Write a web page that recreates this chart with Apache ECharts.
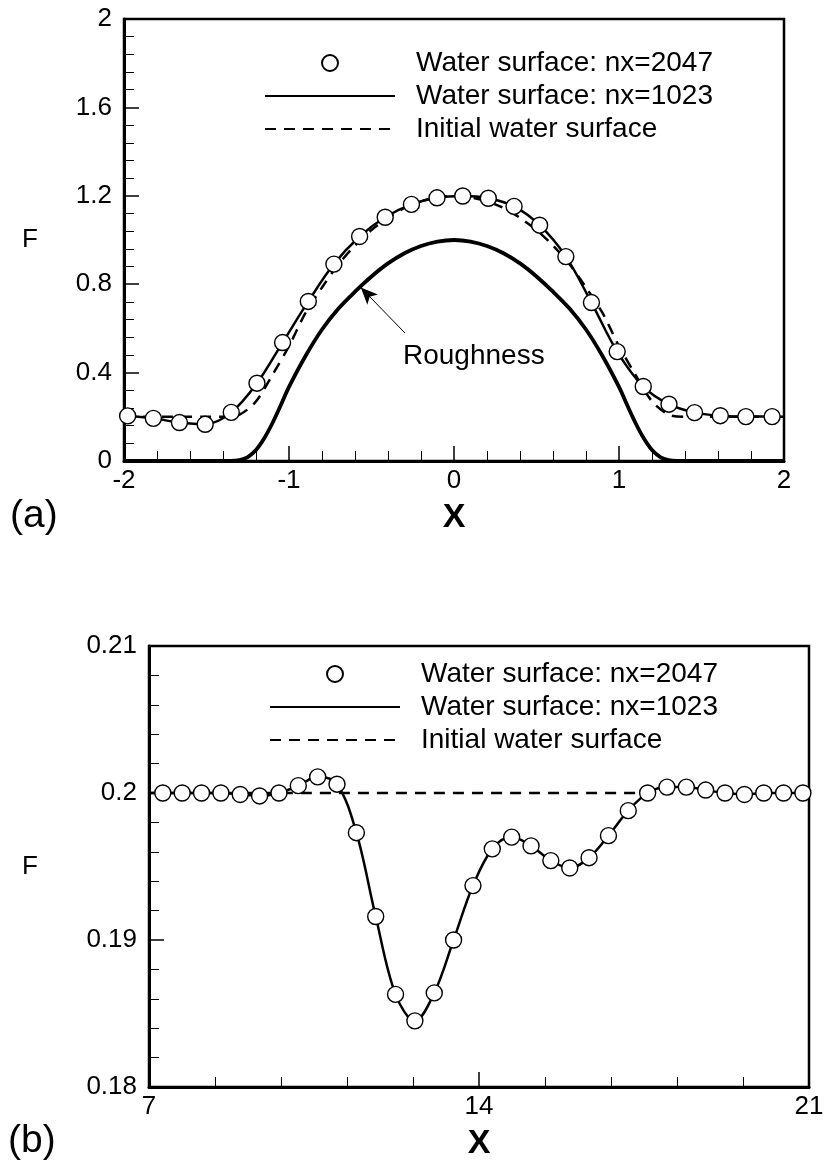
<!DOCTYPE html>
<html lang="en">
<head>
    <meta charset="UTF-8">
    <title>Water surface over roughness</title>
    <script src="https://cdn.jsdelivr.net/npm/echarts@6/dist/echarts.min.js"></script>
    <style>
        html, body {
            margin: 0;
            padding: 0;
            background: #fff;
        }

        #main {
            width: 827px;
            height: 1166px;
        }
    </style>
</head>
<body>
<div id="main"></div>
<script>
    // panel (a)
    var aMarkX = [-1.978, -1.822, -1.664, -1.508, -1.35, -1.194, -1.039, -0.883, -0.728, -0.572, -0.417, -0.258, -0.103,
        0.053, 0.208, 0.364, 0.519, 0.678, 0.833, 0.989, 1.147, 1.303, 1.458, 1.614, 1.769, 1.928];
    var aMarkY = [0.204, 0.193, 0.174, 0.166, 0.22, 0.352, 0.536, 0.722, 0.891, 1.016, 1.103, 1.161, 1.191,
        1.199, 1.189, 1.152, 1.067, 0.925, 0.717, 0.495, 0.337, 0.257, 0.219, 0.205, 0.201, 0.201];
    var aInitX = [-2, -1.4, -1.3, -1.2, -1.1, -1.0, -0.9, -0.8, -0.7, -0.6, -0.5, -0.4, -0.3, -0.2, -0.1, 0,
        0.1, 0.2, 0.3, 0.4, 0.5, 0.6, 0.7, 0.8, 0.9, 1.0, 1.1, 1.2, 1.3, 1.4, 2];
    var aInitY = [0.2, 0.2, 0.21, 0.27, 0.39, 0.52, 0.67, 0.785, 0.89, 0.975, 1.045, 1.1, 1.145, 1.175, 1.193, 1.2,
        1.193, 1.175, 1.145, 1.1, 1.045, 0.975, 0.89, 0.785, 0.67, 0.52, 0.39, 0.27, 0.21, 0.2, 0.2];
    var aRoughX = [-2, -1.4, -1.35, -1.3, -1.25, -1.2, -1.15, -1.1, -1.05, -1.0, -0.9, -0.8, -0.7, -0.6, -0.5, -0.4, -0.3, -0.2, -0.1, 0,
        0.1, 0.2, 0.3, 0.4, 0.5, 0.6, 0.7, 0.8, 0.9, 1.0, 1.05, 1.1, 1.15, 1.2, 1.25, 1.3, 1.35, 1.4, 2];
    var aRoughY = [0, 0, 0, 0.004, 0.018, 0.05, 0.103, 0.172, 0.252, 0.335, 0.475, 0.595, 0.69, 0.766, 0.835, 0.894, 0.94, 0.973, 0.993, 1.0,
        0.993, 0.973, 0.94, 0.894, 0.835, 0.766, 0.69, 0.595, 0.475, 0.335, 0.252, 0.172, 0.103, 0.05, 0.018, 0.004, 0, 0, 0];
    var aLineEnds = [[-2, 0.205], [2, 0.2]];
    var aXTicks = {min: -2, max: 2, interval: 1};
    var aYTicks = {min: 0, max: 2, interval: 0.4};

    // panel (b)
    var bMarkX = [7.293, 7.704, 8.114, 8.525, 8.935, 9.346, 9.757, 10.167, 10.578, 10.988, 11.399, 11.809, 12.23, 12.64,
        13.051, 13.461, 13.872, 14.282, 14.693, 15.104, 15.524, 15.925, 16.335, 16.746, 17.166, 17.577, 17.987,
        18.398, 18.808, 19.219, 19.63, 20.04, 20.461, 20.871];
    var bMarkY = [0.2, 0.2, 0.2, 0.2, 0.1999, 0.1998, 0.2, 0.2005, 0.2011, 0.2006, 0.1973, 0.1916, 0.1863, 0.1845,
        0.1864, 0.19, 0.1937, 0.1962, 0.197, 0.1964, 0.1954, 0.1949, 0.1956, 0.1971, 0.1988, 0.2, 0.2004,
        0.2004, 0.2002, 0.2, 0.1999, 0.2, 0.2, 0.2];
    var bInitX = [7, 21];
    var bInitY = [0.2, 0.2];
    var bLineEnds = [[7, 0.2], [21, 0.2]];
    var bXTicks = {min: 7, max: 21, interval: 7};
    var bYTicks = {min: 0.18, max: 0.21, interval: 0.01};

    var legendNames = ['Water surface: nx=2047', 'Water surface: nx=1023', 'Initial water surface'];
    var FONT = "'Liberation Sans', Arial, sans-serif";

    function pairs(xs, ys) {
        return xs.map(function (x, i) {
            return [x, ys[i]];
        });
    }

    function xAxisOf(idx, t) {
        return {
            type: 'value', gridIndex: idx, min: t.min, max: t.max, interval: t.interval,
            name: 'X', nameLocation: 'middle', nameGap: 40,
            nameTextStyle: {fontSize: 34, fontWeight: 'bold', color: '#000', fontFamily: FONT},
            axisLine: {onZero: false, lineStyle: {color: '#000', width: 3}},
            axisTick: {inside: true, length: 15, lineStyle: {color: '#000', width: 1.5}},
            minorTick: {show: true, splitNumber: 5, length: 10, lineStyle: {color: '#000', width: 1}},
            splitLine: {show: false},
            axisLabel: {fontSize: 26, color: '#000', margin: 7, fontFamily: FONT}
        };
    }

    function yAxisOf(idx, t, gap) {
        return {
            type: 'value', gridIndex: idx, min: t.min, max: t.max, interval: t.interval,
            name: 'F', nameLocation: 'middle', nameGap: gap, nameRotate: 0,
            nameTextStyle: {fontSize: 26, color: '#000', fontFamily: FONT},
            axisLine: {onZero: false, lineStyle: {color: '#000', width: 3}},
            axisTick: {inside: true, length: 15, lineStyle: {color: '#000', width: 1.5}},
            minorTick: {show: true, splitNumber: 5, length: 10, lineStyle: {color: '#000', width: 1}},
            splitLine: {show: false},
            axisLabel: {fontSize: 26, color: '#000', margin: 12, fontFamily: FONT}
        };
    }

    // the two line entries show only their line in the legend, no dot
    function legendOf(left, top) {
        return {
            data: [
                {name: legendNames[0]},
                {name: legendNames[1], itemStyle: {opacity: 0}},
                {name: legendNames[2], itemStyle: {opacity: 0}}
            ],
            left: left, top: top, orient: 'vertical',
            itemWidth: 130, itemHeight: 16, itemGap: 5, selectedMode: false,
            textStyle: {fontSize: 28, color: '#000', fontFamily: FONT, padding: [0, 0, 0, 16]}
        };
    }

    function markerSeries(idx, data) {
        return {
            name: legendNames[0], type: 'scatter', xAxisIndex: idx, yAxisIndex: idx, data: data,
            symbol: 'circle', symbolSize: 16, z: 5,
            itemStyle: {color: '#fff', borderColor: '#000', borderWidth: 1.4, opacity: 1}
        };
    }

    function solidSeries(idx, data) {
        return {
            name: legendNames[1], type: 'line', xAxisIndex: idx, yAxisIndex: idx, data: data,
            symbol: 'none', smooth: 0.35, z: 4,
            itemStyle: {color: '#000', opacity: 0},
            lineStyle: {color: '#000', width: 2.5, opacity: 1}
        };
    }

    function dashSeries(idx, data) {
        return {
            name: legendNames[2], type: 'line', xAxisIndex: idx, yAxisIndex: idx, data: data,
            symbol: 'none', smooth: 0.3, z: 3,
            itemStyle: {color: '#000', opacity: 0},
            lineStyle: {color: '#000', width: 2.5, type: [11, 8], opacity: 1}
        };
    }

    var aLine = [aLineEnds[0]].concat(pairs(aMarkX, aMarkY), [aLineEnds[1]]);
    var bLine = [bLineEnds[0]].concat(pairs(bMarkX, bMarkY), [bLineEnds[1]]);

    var myChart = echarts.init(document.getElementById('main'));
    myChart.setOption({
        backgroundColor: '#fff',
        animation: false,
        textStyle: {fontFamily: FONT},
        grid: [
            {left: 124, top: 19, width: 660, height: 442, show: true, borderColor: '#000', borderWidth: 2.5},
            {left: 149, top: 646, width: 660, height: 441, show: true, borderColor: '#000', borderWidth: 2.5}
        ],
        xAxis: [xAxisOf(0, aXTicks), xAxisOf(1, bXTicks)],
        yAxis: [yAxisOf(0, aYTicks, 86), yAxisOf(1, bYTicks, 111)],
        legend: [legendOf(259, 44), legendOf(264, 655)],
        graphic: [
            {type: 'text', left: 10, top: 497, style: {text: '(a)', fontSize: 39, fill: '#000', fontFamily: FONT}},
            {type: 'text', left: 8, top: 1122, style: {text: '(b)', fontSize: 39, fill: '#000', fontFamily: FONT}}
        ],
        series: [
            dashSeries(0, pairs(aInitX, aInitY)),
            {
                name: 'Roughness', type: 'line', xAxisIndex: 0, yAxisIndex: 0,
                data: pairs(aRoughX, aRoughY), symbol: 'none', smooth: 0.3, z: 3,
                lineStyle: {color: '#000', width: 3.8},
                markLine: {
                    silent: true, symbol: ['none', 'arrow'], symbolSize: [11, 17],
                    lineStyle: {color: '#000', width: 1, type: 'solid'},
                    label: {show: false},
                    data: [[{coord: [-0.297, 0.579]}, {coord: [-0.565, 0.785]}]]
                },
                markPoint: {
                    silent: true, symbol: 'circle', symbolSize: 0,
                    label: {show: true, position: 'inside', formatter: 'Roughness', fontSize: 28, color: '#000', fontFamily: FONT},
                    data: [{coord: [0.12, 0.475]}]
                }
            },
            solidSeries(0, aLine),
            markerSeries(0, pairs(aMarkX, aMarkY)),
            dashSeries(1, pairs(bInitX, bInitY)),
            solidSeries(1, bLine),
            markerSeries(1, pairs(bMarkX, bMarkY))
        ]
    });
</script>
</body>
</html>
